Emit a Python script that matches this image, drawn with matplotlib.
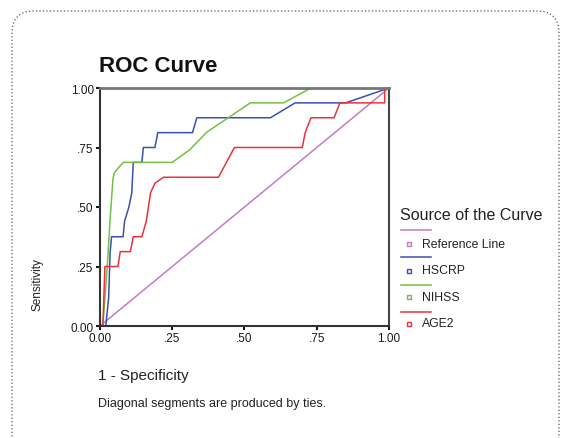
import matplotlib
matplotlib.use('Agg')
import matplotlib.pyplot as plt
from matplotlib.patches import FancyBboxPatch
from matplotlib.lines import Line2D

plt.rcParams['font.family'] = ['Liberation Sans', 'DejaVu Sans']

# ROC curves (x = 1 - specificity, y = sensitivity)
hscrp_x = [0, 0.02, 0.03, 0.035, 0.04, 0.08, 0.085, 0.10, 0.11, 0.115, 0.145, 0.15,
           0.19, 0.20, 0.32, 0.335, 0.59, 0.675, 0.85, 1.0]
hscrp_y = [0, 0.0, 0.12, 0.31, 0.375, 0.375, 0.44, 0.50, 0.56, 0.6875, 0.6875, 0.75,
           0.75, 0.8125, 0.8125, 0.875, 0.875, 0.9375, 0.9375, 1.0]

nihss_x = [0, 0.01, 0.025, 0.035, 0.045, 0.05, 0.08, 0.25, 0.31, 0.37, 0.45, 0.52,
           0.635, 0.73, 1.0]
nihss_y = [0, 0.0, 0.25, 0.45, 0.62, 0.645, 0.6875, 0.6875, 0.74, 0.815, 0.88, 0.9375,
           0.9375, 1.0, 1.0]

age2_x = [0, 0.01, 0.017, 0.062, 0.07, 0.105, 0.115, 0.145, 0.16, 0.175, 0.19, 0.22,
          0.41, 0.465, 0.70, 0.71, 0.73, 0.81, 0.83, 0.985, 0.985, 1.0]
age2_y = [0, 0.0, 0.25, 0.25, 0.3125, 0.3125, 0.375, 0.375, 0.44, 0.56, 0.60, 0.625,
          0.625, 0.75, 0.75, 0.8125, 0.875, 0.875, 0.9375, 0.9375, 1.0, 1.0]

ref_x = [0, 1]
ref_y = [0, 1]

names = ["Reference Line", "HSCRP", "NIHSS", "AGE2"]
colors = ["#c47ac8", "#3a4fb4", "#74c043", "#e8333a"]
tick_vals = [0, 0.25, 0.5, 0.75, 1.0]
tick_labels = ["0.00", ".25", ".50", ".75", "1.00"]

fig = plt.figure(figsize=(5.62, 4.39), dpi=100)

# dotted rounded frame round the whole picture
frame = FancyBboxPatch((0.12, -0.3), 5.47, 4.57, boxstyle="round,pad=0,rounding_size=0.22",
                       transform=fig.dpi_scale_trans, fill=False, edgecolor="#555555",
                       linewidth=0.9, linestyle=(0, (1, 1.8)))
fig.patches.append(frame)

ax = fig.add_axes([100 / 562, 1 - 327 / 439, 289 / 562, 238 / 439])

series = [(ref_x, ref_y), (hscrp_x, hscrp_y), (nihss_x, nihss_y), (age2_x, age2_y)]
for (xs, ys), c in zip(series, colors):
    ax.plot(xs, ys, color=c, linewidth=1.1)

ax.set_xlim(0, 1)
ax.set_ylim(0, 1)
ax.set_xticks(tick_vals)
ax.set_xticklabels(tick_labels)
ax.set_yticks(tick_vals)
ax.set_yticklabels(tick_labels)
ax.tick_params(direction="out", length=3, width=1.5, labelsize=8.5, pad=1.5, colors="#1a1a1a")
for side in ["left", "bottom"]:
    ax.spines[side].set_linewidth(1.5)
    ax.spines[side].set_color("#333333")
ax.spines["top"].set_linewidth(2)
ax.spines["top"].set_color("#777777")
ax.spines["right"].set_linewidth(1.5)
ax.spines["right"].set_color("#444444")

fig.text(99 / 562, 1 - 66 / 439, "ROC Curve", fontsize=16, fontweight="bold",
         va="center", ha="left", color="#111111")
fig.text(37 / 562, 1 - 285 / 439, "Sensitivity", fontsize=8.5, rotation=90,
         va="center", ha="center", color="#222222")
fig.text(98 / 562, 1 - 376 / 439, "1 - Specificity", fontsize=11, va="center",
         ha="left", color="#222222")
fig.text(98 / 562, 1 - 404 / 439, "Diagonal segments are produced by ties.", fontsize=9,
         va="center", ha="left", color="#222222")

# legend drawn by hand, SPSS style
fig.text(400 / 562, 1 - 215 / 439, "Source of the Curve", fontsize=11.5, va="center",
         ha="left", color="#222222")
for i, (name, c) in enumerate(zip(names, colors)):
    y_line = 231 + i * 27.3
    y_text = 245 + i * 26.5
    fig.add_artist(Line2D([401 / 562, 431 / 562], [1 - y_line / 439] * 2,
                          transform=fig.transFigure, color=c, linewidth=1.1))
    fig.add_artist(Line2D([409 / 562], [1 - y_text / 439], transform=fig.transFigure,
                          marker="s", markersize=3.5, markerfacecolor="#f4e8f4",
                          markeredgecolor=c, markeredgewidth=1, linestyle="none"))
    fig.text(422 / 562, 1 - y_text / 439, name, fontsize=8.8, va="center", ha="left",
             color="#222222")

plt.savefig("out.png", dpi=100)
